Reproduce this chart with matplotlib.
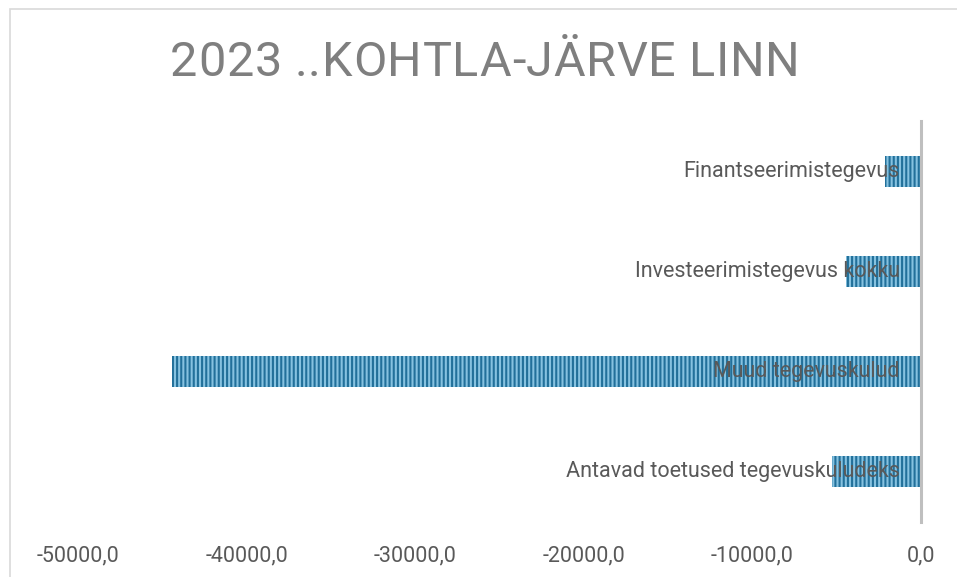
import matplotlib
matplotlib.use("Agg")
from matplotlib import pyplot as plt
from matplotlib.patches import Rectangle
from matplotlib.ticker import FixedLocator, FuncFormatter

# bottom to top
categories = ["Antavad toetused tegevuskuludeks", "Muud tegevuskulud",
              "Investeerimistegevus kokku", "Finantseerimistegevus"]
values = [-5280.0, -44400.0, -4450.0, -2130.0]
xticks = [-50000, -40000, -30000, -20000, -10000, 0]
title = "2023 ..KOHTLA-JÄRVE LINN"

plt.rcParams['font.family'] = ['Roboto', 'DejaVu Sans']
plt.rcParams['hatch.linewidth'] = 1.5

fig = plt.figure(figsize=(9.57, 5.77), dpi=100)
ax = fig.add_axes([78/957, 1-522/577, (921-78)/957, (522-121)/577])

ypos = list(range(len(categories)))
ax.barh(ypos, values, height=0.31, color='#86C2E0', edgecolor='#22709A',
        hatch='||||', linewidth=0)
ax.axvline(0, color='#BFBFBF', lw=2.2, zorder=3, clip_on=False)

for y, name in zip(ypos, categories):
    ax.text(-1250, y, name, ha='right', va='center', fontsize=15.5,
            color='#595959', zorder=4)

ax.set_xlim(-50000, 0)
ax.set_ylim(-0.5, 3.5)
ax.xaxis.set_major_locator(FixedLocator(xticks))
ax.xaxis.set_major_formatter(FuncFormatter(lambda v, p: f"{v:.1f}".replace('.', ',')))
ax.set_yticks([])
ax.tick_params(axis='x', length=0, pad=17, labelsize=15.5, labelcolor='#595959')
for s in ax.spines.values():
    s.set_visible(False)

# spaced-out title, drawn letter by letter
fig.canvas.draw()
r = fig.canvas.get_renderer()
spacing = 0.8
parts = []
for ch in title:
    t = fig.text(0, 0, ch, fontsize=35, color='#7F7F7F', va='baseline')
    parts.append((t, t.get_window_extent(r).width if ch != ' ' else 11))
total = sum(w for _, w in parts) + spacing * (len(parts) - 1)
x = 485 - total / 2
for t, w in parts:
    t.set_position((x / 957, 1 - 76/577))
    x += w + spacing

fig.patches.append(Rectangle((10/957, -0.01), 1, 1 - 9/577 + 0.01, transform=fig.transFigure,
                             fill=False, edgecolor='#D9D9D9', lw=1.2))

fig.savefig("out.png", dpi=100)
